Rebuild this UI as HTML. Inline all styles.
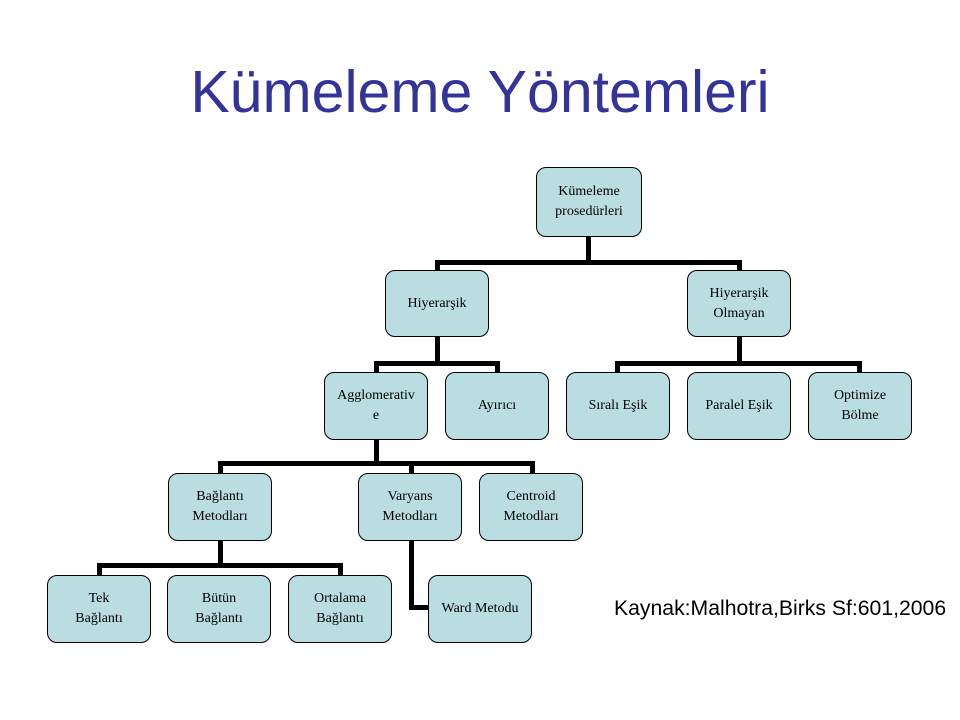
<!DOCTYPE html>
<html><head><meta charset="utf-8"><style>
body{margin:0;width:960px;height:720px;background:#fff;position:relative;overflow:hidden;font-family:"Liberation Serif",serif}
.t{position:absolute;left:0;width:960px;top:52px;text-align:center;font-family:"Liberation Sans",sans-serif;font-size:59px;color:#333399;line-height:80px}
.b{position:absolute;width:104px;height:67px;background:#b9dde1;border:1px solid #000;border-radius:10px;box-sizing:border-box;display:flex;align-items:center;justify-content:center;text-align:center;font-size:14px;line-height:20px;color:#000}
.l{position:absolute;background:#000}
.k{position:absolute;left:614px;top:597px;font-family:"Liberation Sans",sans-serif;font-size:21.2px;white-space:nowrap}
</style></head><body>
<div class="t">Kümeleme Yöntemleri</div>
<div class="l" style="left:586px;top:236px;width:5px;height:29px"></div>
<div class="l" style="left:435px;top:260px;width:306px;height:5px"></div>
<div class="l" style="left:435px;top:260px;width:5px;height:12px"></div>
<div class="l" style="left:737px;top:260px;width:5px;height:12px"></div>
<div class="l" style="left:435px;top:336px;width:5px;height:28px"></div>
<div class="l" style="left:374px;top:361px;width:126px;height:5px"></div>
<div class="l" style="left:374px;top:361px;width:5px;height:12px"></div>
<div class="l" style="left:495px;top:361px;width:5px;height:12px"></div>
<div class="l" style="left:737px;top:336px;width:5px;height:28px"></div>
<div class="l" style="left:615px;top:361px;width:247px;height:5px"></div>
<div class="l" style="left:615px;top:361px;width:5px;height:12px"></div>
<div class="l" style="left:857px;top:361px;width:5px;height:12px"></div>
<div class="l" style="left:374px;top:439px;width:5px;height:26px"></div>
<div class="l" style="left:218px;top:461px;width:317px;height:5px"></div>
<div class="l" style="left:218px;top:461px;width:5px;height:13px"></div>
<div class="l" style="left:409px;top:461px;width:5px;height:13px"></div>
<div class="l" style="left:530px;top:461px;width:5px;height:13px"></div>
<div class="l" style="left:218px;top:540px;width:5px;height:27px"></div>
<div class="l" style="left:97px;top:563px;width:246px;height:5px"></div>
<div class="l" style="left:97px;top:563px;width:5px;height:13px"></div>
<div class="l" style="left:338px;top:563px;width:5px;height:13px"></div>
<div class="l" style="left:409px;top:540px;width:5px;height:70px"></div>
<div class="l" style="left:409px;top:605px;width:20px;height:5px"></div>
<div class="b" style="left:536px;top:167px;width:106px;height:70px">Kümeleme<br>prosedürleri</div>
<div class="b" style="left:385px;top:270px;height:67px">Hiyerarşik</div>
<div class="b" style="left:687px;top:270px;height:67px">Hiyerarşik<br>Olmayan</div>
<div class="b" style="left:324px;top:372px;height:68px">Agglomerativ<br>e</div>
<div class="b" style="left:445px;top:372px;height:68px">Ayırıcı</div>
<div class="b" style="left:566px;top:372px;height:68px">Sıralı Eşik</div>
<div class="b" style="left:687px;top:372px;height:68px">Paralel Eşik</div>
<div class="b" style="left:808px;top:372px;height:68px">Optimize<br>Bölme</div>
<div class="b" style="left:168px;top:473px;height:68px">Bağlantı<br>Metodları</div>
<div class="b" style="left:358px;top:473px;height:68px">Varyans<br>Metodları</div>
<div class="b" style="left:479px;top:473px;height:68px">Centroid<br>Metodları</div>
<div class="b" style="left:47px;top:575px;height:68px">Tek<br>Bağlantı</div>
<div class="b" style="left:167px;top:575px;height:68px">Bütün<br>Bağlantı</div>
<div class="b" style="left:288px;top:575px;height:68px">Ortalama<br>Bağlantı</div>
<div class="b" style="left:428px;top:575px;height:68px">Ward Metodu</div>
<div class="k">Kaynak:Malhotra,Birks Sf:601,2006</div>
</body></html>
